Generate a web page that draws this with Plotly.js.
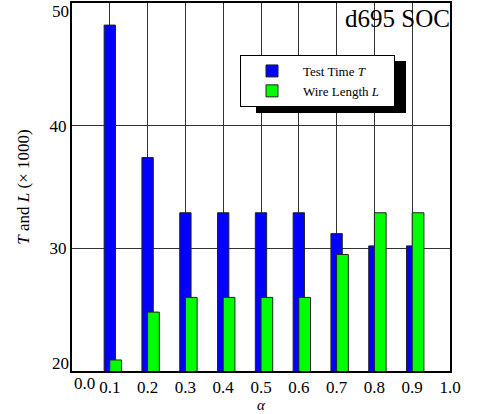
<!DOCTYPE html>
<html>
<head>
<meta charset="utf-8">
<script src="https://cdn.plot.ly/plotly-3.0.1.min.js"></script>
<style>html,body{margin:0;padding:0;background:#fff;}#chart{width:491px;height:414px;}</style>
</head>
<body>
<div id="chart"></div>
<script>
const alpha = [0.1, 0.2, 0.3, 0.4, 0.5, 0.6, 0.7, 0.8, 0.9];
const testTime = [48.2, 37.4, 32.9, 32.9, 32.9, 32.9, 31.2, 30.2, 30.2];
const wireLength = [20.9, 24.8, 26.0, 26.0, 26.0, 26.0, 29.5, 32.9, 32.9];
const xTickVals = [0.0, 0.1, 0.2, 0.3, 0.4, 0.5, 0.6, 0.7, 0.8, 0.9, 1.0];
const xTickText = ['0.0', '0.1', '0.2', '0.3', '0.4', '0.5', '0.6', '0.7', '0.8', '0.9', '1.0'];
const yTickVals = [20, 30, 40, 50];
const yTickText = ['20', '30', '40', '50'];

const serif = 'Liberation Serif, serif';
const black = '#000';

const traces = [
  {
    type: 'bar', name: 'Test Time <i>T</i>', x: alpha, y: testTime,
    width: 0.03, offset: -0.015,
    marker: {color: '#0000ff', line: {color: '#222', width: 1}}
  },
  {
    type: 'bar', name: 'Wire Length <i>L</i>\u00a0\u00a0\u00a0', x: alpha, y: wireLength,
    width: 0.031, offset: 0.0,
    marker: {color: '#00ff00', line: {color: '#222', width: 1}}
  }
];

// inner ticks go on the axis; the end labels are nudged inward like the original
const annotations = [
  {text: 'd695 SOC', xref: 'paper', yref: 'paper', x: 1, y: 1, xanchor: 'right', yanchor: 'top',
   showarrow: false, font: {family: serif, size: 25, color: black}, xshift: 2},
  {text: xTickText[0], xref: 'paper', yref: 'paper', x: 0, y: 0, xanchor: 'left', yanchor: 'top',
   showarrow: false, font: {family: serif, size: 17, color: black}, yshift: -1},
  {text: yTickText[yTickText.length - 1], xref: 'paper', yref: 'paper', x: 0, y: 1, xanchor: 'right', yanchor: 'top',
   showarrow: false, font: {family: serif, size: 17, color: black}, xshift: -1, yshift: 3},
  {text: yTickText[0], xref: 'paper', yref: 'paper', x: 0, y: 0, xanchor: 'right', yanchor: 'bottom',
   showarrow: false, font: {family: serif, size: 17, color: black}, xshift: -1, yshift: -4}
];

const layout = {
  width: 491, height: 414,
  margin: {l: 72, r: 41, t: 3, b: 43},
  paper_bgcolor: '#fff', plot_bgcolor: '#fff',
  barmode: 'overlay',
  font: {family: serif, color: black},
  showlegend: true,
  legend: {
    x: (240 - 72) / 378, y: 1 - (55 - 3) / 368, xanchor: 'left', yanchor: 'top',
    bgcolor: '#fff', bordercolor: black, borderwidth: 1,
    font: {family: serif, size: 13, color: black},
    itemwidth: 52, tracegroupgap: 0
  },
  xaxis: {
    range: [0, 1], tickvals: xTickVals.slice(1), ticktext: xTickText.slice(1),
    showgrid: true, gridcolor: '#333', gridwidth: 1,
    showline: true, linecolor: black, linewidth: 2, mirror: true,
    ticks: '', zeroline: false,
    tickfont: {family: serif, size: 17, color: black},
    title: {text: '<i>α</i>', font: {family: serif, size: 15, color: black}, standoff: 1}
  },
  yaxis: {
    range: [20, 50], tickvals: yTickVals.slice(1, -1), ticktext: yTickText.slice(1, -1),
    showgrid: true, gridcolor: '#333', gridwidth: 1,
    showline: true, linecolor: black, linewidth: 2, mirror: true,
    ticks: '', zeroline: false,
    tickfont: {family: serif, size: 17, color: black},
    title: {text: '<i>T</i> and <i>L</i> (× 1000)', font: {family: serif, size: 17, color: black}, standoff: 16}
  },
  annotations: annotations,
  shapes: [
    {type: 'rect', xref: 'paper', yref: 'paper', layer: 'above',
     x0: (256 - 72) / 378, x1: (406 - 72) / 378, y0: 1 - (113 - 3) / 368, y1: 1 - (61 - 3) / 368,
     fillcolor: black, line: {width: 0}}
  ]
};

Plotly.newPlot('chart', traces, layout, {displayModeBar: false, staticPlot: true});
</script>
</body>
</html>
